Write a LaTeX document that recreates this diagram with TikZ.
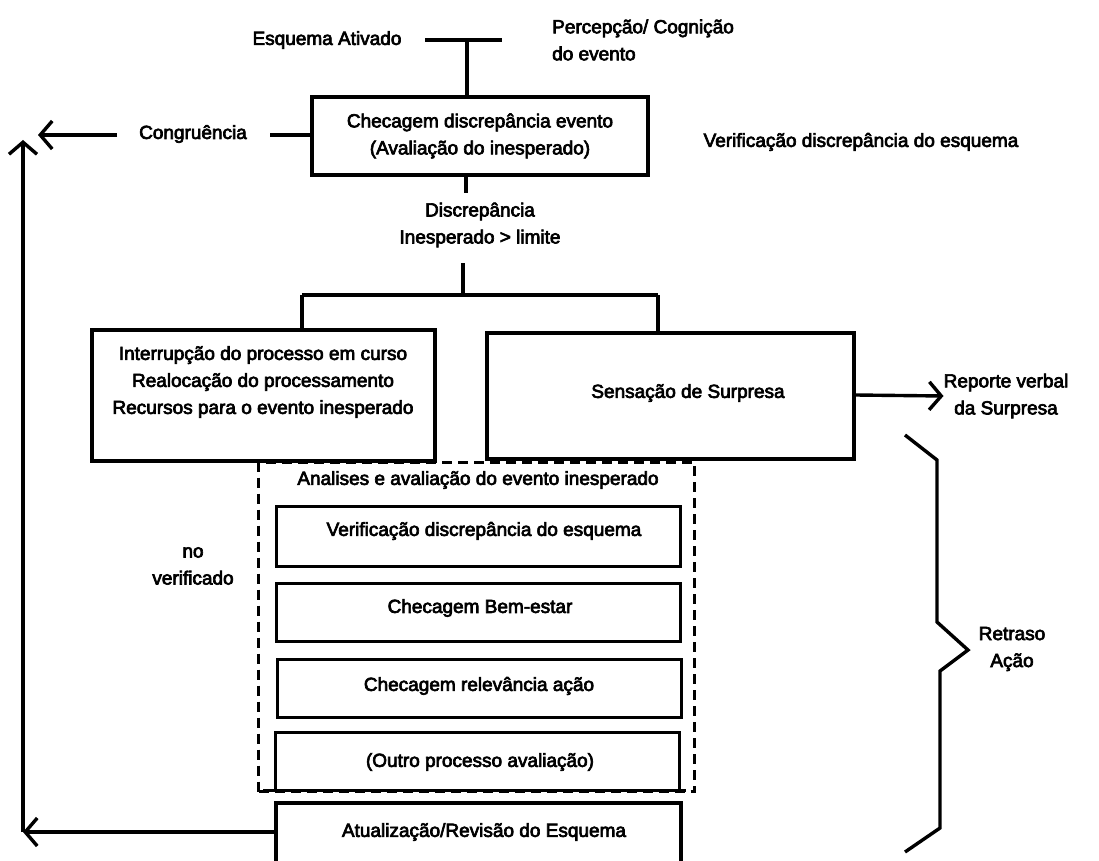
\documentclass[tikz,border=0pt]{standalone}
\usepackage{fontspec}
\setmainfont{Liberation Sans}[FakeBold=3.5]
\usetikzlibrary{arrows.meta}
\begin{document}
\begin{tikzpicture}[x=1pt,y=-1pt,
  every node/.style={font=\fontsize{19}{27}\selectfont, inner sep=0pt},
  lbl/.style={align=center},
  frame/.style={draw, line width=3.4pt, fill=white, inner sep=0pt},
  subbox/.style={frame, minimum width=404pt, line width=3pt},
  conn/.style={line width=3.4pt},
  arr/.style={conn, -{Straight Barb[length=12pt,width=28pt,line width=3.4pt]}},
  dashframe/.style={line width=3.2pt, dash pattern=on 10pt off 6pt}]
\useasboundingbox (0,0) rectangle (1099,861);

% event entry at the top
\node[lbl] (esq) at (327,40) {Esquema Ativado};
\node[align=left, anchor=west] (perc) at (552,40) {Percepção/ Cognição\\do evento};
\coordinate (jl) at (425,40);
\coordinate (jr) at (502,40);
\coordinate (jm) at (467,40);

% discrepancy check
\node[frame, minimum width=336pt, minimum height=78pt] (chk) at (480,136) {};
\node[lbl] (chkt) at (480,136) {Checagem discrepância evento\\(Avaliação do inesperado)};
\draw[conn] (jl) -- (jr);
\draw[conn] (jm) -- (jm |- chk.north);

\node[lbl] (cong) at (193,134) {Congruência};
\coordinate (congl) at (270,135);
\coordinate (conga) at (117,135);
\coordinate (congtip) at (38,135);
\draw[conn] (congl) -- (congl -| chk.west);
\draw[arr] (conga) -- (congtip);

\node[lbl] (verr) at (861,142) {Verificação discrepância do esquema};

% threshold
\coordinate (d0) at (466,175);
\coordinate (d1) at (466,193);
\draw[conn] (d0) -- (d1);
\node[lbl] (disc) at (480,225) {Discrepância\\Inesperado > limite};
\coordinate (s0) at (463,263);
\coordinate (s1) at (463,295);
\coordinate (sl) at (302,295);
\coordinate (sr) at (658,295);

% analysis frame (dashed)
\node[dashframe, draw, minimum width=436pt, minimum height=329pt, anchor=north west] (ana) at (257,461) {};

% two branches
\node[frame, minimum width=343pt, minimum height=131pt] (intr) at (263.5,395.5) {};
\node[lbl] (intrt) at (263,382) {Interrupção do processo em curso\\Realocação do processamento\\Recursos para o evento inesperado};
\node[frame, minimum width=367pt, minimum height=126pt] (surp) at (670.5,396) {};
\node[lbl] (surpt) at (688,393) {Sensação de Surpresa};

\draw[conn] (s0) -- (s1);
\draw[conn] (sl) -- (sr);
\draw[conn] (sl) -- (sl |- intr.north);
\draw[conn] (sr) -- (sr |- surp.north);

\node[lbl] (rep) at (1006,396) {Reporte verbal\\da Surpresa};
\draw[arr] (surp.east |- 0,395) -- (rep.west);

\node[lbl] (anat) at (478,480) {Analises e avaliação do evento inesperado};

% appraisal checks
\node[subbox, minimum height=60pt] (c1) at (478,536) {};
\node[lbl] (c1t) at (484,531) {Verificação discrepância do esquema};
\node[subbox, minimum height=58pt] (c2) at (478,612) {};
\node[lbl] (c2t) at (480,608) {Checagem Bem-estar};
\node[subbox, minimum height=58pt] (c3) at (479,688) {};
\node[lbl] (c3t) at (479,686) {Checagem relevância ação};
\node[subbox, minimum height=58pt] (c4) at (477,761) {};
\node[lbl] (c4t) at (480,762) {(Outro processo avaliação)};
\coordinate (bl) at (263,790);
\coordinate (br) at (686,790);
\draw[line width=3pt] (bl) -- (br);

% schema update and feedback loop
\node[frame, minimum width=405pt, minimum height=80pt] (upd) at (478.5,843) {};
\node[lbl] (updt) at (484,832) {Atualização/Revisão do Esquema};
\coordinate (lc) at (23,832);
\coordinate (lt) at (23,140);
\draw[arr] (upd.west |- lc) -- (lc);
\draw[arr] (lc) -- (lt);

\node[lbl] (nov) at (193,566) {no\\verificado};

% delay brace
\draw[conn, line join=miter] (905,435) -- (937,460) -- (937,622) -- (968,650) -- (940,671) -- (940,828) -- (905,852);
\node[lbl] (ret) at (1012,649) {Retraso\\Ação};
\end{tikzpicture}
\end{document}
